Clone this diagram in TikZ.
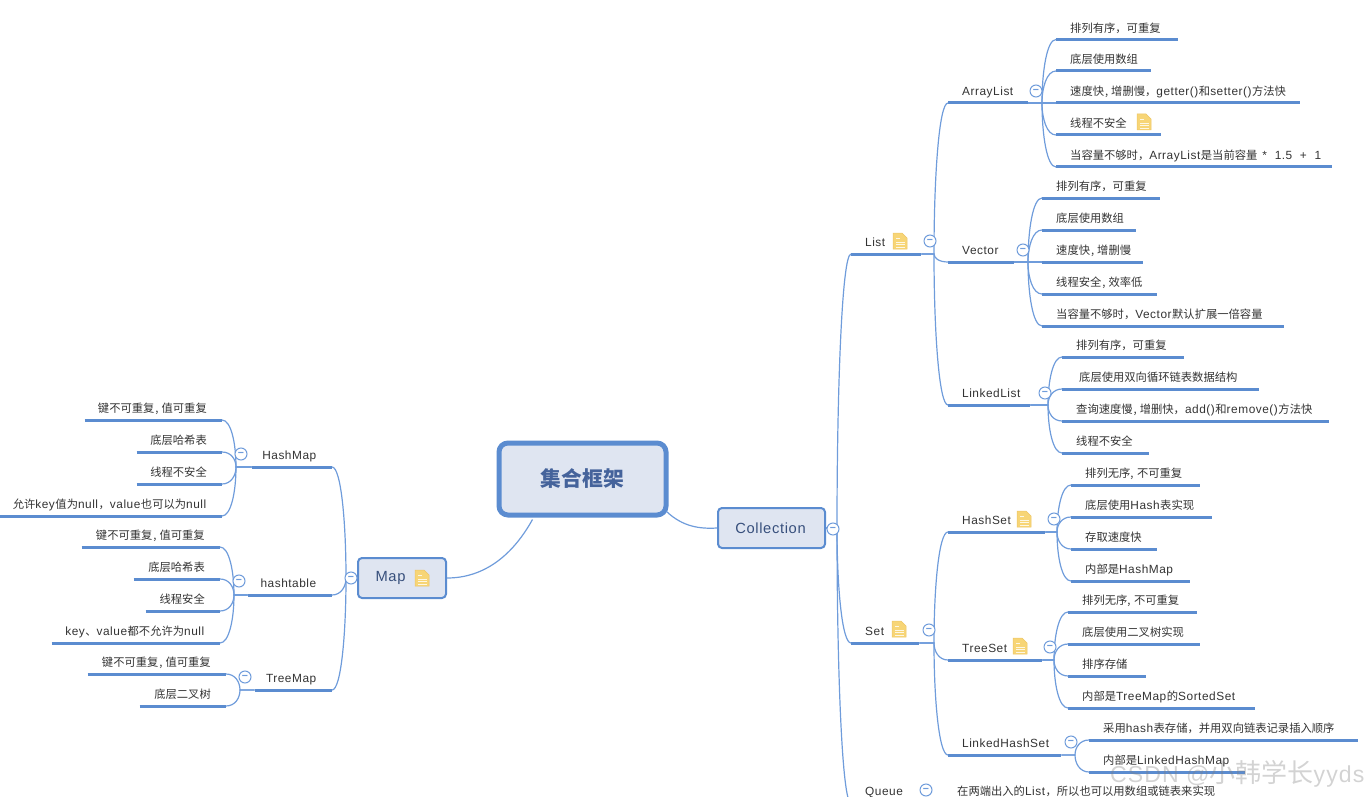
\documentclass[tikz,border=0pt]{standalone}
\usepackage{fontspec}
\setmainfont[Scale=1.05,LetterSpace=4.5]{Liberation Sans}
\newfontfamily\cjk{Noto Sans CJK SC}
\usetikzlibrary{calc}
\definecolor{mapblue}{HTML}{5B8CD0}
\definecolor{linkblue}{HTML}{6F9CDB}
\definecolor{boxfill}{HTML}{DFE5F1}
\definecolor{boxtext}{HTML}{45639B}
\definecolor{notefill}{HTML}{F7D576}
\definecolor{noteline}{HTML}{EDC566}
% leaf: parent, name, left x, right x, bar y, text
\newcommand{\conn}[3]{%
  \coordinate (t) at ($(#1 -| #2)+(#3,0)$);
  \draw[link] (#1) -- (t) .. controls ($(t)!.5!(t |- #2)$) and ($(t |- #2)-(0.35*#3,0)$) .. (#2);}
\newcommand{\rleaf}[6]{%
  \node[leaf, anchor=south west] (#2) at (#3,#5) {\makebox[\dimexpr#4pt-#3pt\relax][l]{\hspace*{14pt}#6}};
  \draw[bar] (#2.south west) -- (#2.south east);
  \conn{#1}{#2.south west}{-14}}
\newcommand{\lleaf}[6]{%
  \node[leaf, anchor=south east] (#2) at (#4,#5) {\makebox[\dimexpr#4pt-#3pt\relax][r]{#6\hspace*{15pt}}};
  \draw[bar] (#2.south west) -- (#2.south east);
  \conn{#1}{#2.south east}{14}}
\newcommand{\noteicon}[2]{%
  \begin{scope}[shift={(#1,#2)}]
    \fill[notefill, draw=noteline, line width=.5pt] (-7,-8) -- (2,-8) -- (7,-3) -- (7,8) -- (-7,8) -- cycle;
    \draw[white!80!notefill, line width=.7pt] (-4,-2.5) -- (0,-2.5) (-4,1) -- (4.5,1) (-4,3.5) -- (4.5,3.5) (-4,6) -- (4.5,6);
  \end{scope}}
\newcommand{\cma}{\hspace{1pt},\hspace{3pt}}
\begin{document}
\begin{tikzpicture}[x=1pt, y=-1pt,
  leaf/.style={inner xsep=0pt, inner ysep=7pt, text depth=0pt, font=\fontsize{11.3}{13}\cjk, text=black!80},
  bar/.style={draw=mapblue, line width=3pt},
  link/.style={draw=linkblue, line width=1.2pt},
  minus/.style={circle, draw=linkblue, fill=white, line width=1pt, minimum size=12pt, inner sep=0pt, font=\fontsize{10}{10}\selectfont\bfseries, text=linkblue},
  topic/.style={draw=mapblue, fill=boxfill, rounded corners=4pt, line width=2pt, minimum height=40pt, text=boxtext!80!black, font=\fontsize{14}{16}\selectfont}]
\useasboundingbox (0,0) rectangle (1371,797);

\node[topic, line width=5pt, rounded corners=9pt, minimum width=167pt, minimum height=72pt, font=\fontsize{20.8}{24}\cjk\bfseries, text=boxtext] (root) at (582.5,479) {集合框架};
\node[topic, minimum width=107pt] (collection) at (771.5,528) {\raisebox{-2pt}{\hspace*{-2pt}Collection}};
\node[topic, minimum width=88pt] (map) at (402,578) {\raisebox{-3pt}{\hspace*{-23pt}Map}};
\draw[link] (root.south east) ++(-2,-6) coordinate (rc) .. controls (683,527) and (700,529) .. (collection.west);
\draw[link] (root.south) ++(-50,2) coordinate (rm) .. controls (510,560) and (480,578) .. (map.east);
\noteicon{422}{578}

% collection side
\rleaf{collection.east}{list}{851}{921}{254}{\textrm{List}}
\rleaf{collection.east}{set}{851}{919}{643}{\textrm{Set}}
\rleaf{collection.east}{queue}{851}{917}{803}{\textrm{Queue}}
\noteicon{900}{241}
\noteicon{899}{629}

\rleaf{list.south east}{arraylist}{948}{1028}{103}{\textrm{ArrayList}}
\rleaf{list.south east}{vector}{948}{1014}{262}{\textrm{Vector}}
\rleaf{list.south east}{linkedlist}{948}{1030}{405}{\textrm{LinkedList}}
\rleaf{set.south east}{hashset}{948}{1045}{532}{\textrm{HashSet}}
\rleaf{set.south east}{treeset}{948}{1042}{660}{\textrm{TreeSet}}
\rleaf{set.south east}{linkedhashset}{948}{1061}{755}{\textrm{LinkedHashSet}}
\rleaf{queue.south east}{queuenote}{943}{1240}{803}{在两端出入的\textrm{List}，所以也可以用数组或链表来实现}
\noteicon{1024}{519}
\noteicon{1020}{646}

\rleaf{arraylist.south east}{al1}{1056}{1178}{39.5}{排列有序，可重复}
\rleaf{arraylist.south east}{al2}{1056}{1151}{71}{底层使用数组}
\rleaf{arraylist.south east}{al3}{1056}{1300}{103}{速度快\cma 增删慢，\textrm{getter()}和\textrm{setter()}方法快}
\rleaf{arraylist.south east}{al4}{1056}{1161}{135}{线程不安全}
\rleaf{arraylist.south east}{al5}{1056}{1332}{167}{当容量不够时，\textrm{ArrayList}是当前容量\ \ \textrm{*\ \ 1.5\ \ +\ \ 1}}
\noteicon{1144}{122}

\rleaf{vector.south east}{ve1}{1042}{1160}{198}{排列有序，可重复}
\rleaf{vector.south east}{ve2}{1042}{1136}{230}{底层使用数组}
\rleaf{vector.south east}{ve3}{1042}{1143}{262}{速度快\cma 增删慢}
\rleaf{vector.south east}{ve4}{1042}{1157}{294}{线程安全\cma 效率低}
\rleaf{vector.south east}{ve5}{1042}{1284}{326}{当容量不够时，\textrm{Vector}默认扩展一倍容量}

\rleaf{linkedlist.south east}{ll1}{1062}{1184}{357}{排列有序，可重复}
\rleaf{linkedlist.south east}{ll2}{1062}{1259}{389}{\hspace*{3pt}底层使用双向循环链表数据结构}
\rleaf{linkedlist.south east}{ll3}{1062}{1329}{421}{查询速度慢\cma 增删快，\textrm{add()}和\textrm{remove()}方法快}
\rleaf{linkedlist.south east}{ll4}{1062}{1149}{453}{线程不安全}

\rleaf{hashset.south east}{hs1}{1071}{1200}{485}{排列无序, \hspace{1pt}不可重复}
\rleaf{hashset.south east}{hs2}{1071}{1212}{517}{底层使用\textrm{Hash}表实现}
\rleaf{hashset.south east}{hs3}{1071}{1157}{549}{存取速度快}
\rleaf{hashset.south east}{hs4}{1071}{1190}{581}{内部是\textrm{HashMap}}

\rleaf{treeset.south east}{ts1}{1068}{1197}{612}{排列无序, \hspace{1pt}不可重复}
\rleaf{treeset.south east}{ts2}{1068}{1200}{644}{底层使用二叉树实现}
\rleaf{treeset.south east}{ts3}{1068}{1146}{676}{排序存储}
\rleaf{treeset.south east}{ts4}{1068}{1255}{708}{内部是\textrm{TreeMap}的\textrm{SortedSet}}

\rleaf{linkedhashset.south east}{lh1}{1089}{1358}{740}{采用\textrm{hash}表存储，并用双向链表记录插入顺序}
\rleaf{linkedhashset.south east}{lh2}{1089}{1245}{772}{内部是\textrm{LinkedHashMap}}

% map side
\lleaf{map.west}{hashmap}{252}{332}{467}{\textrm{HashMap}}
\lleaf{map.west}{hashtable}{248}{332}{595}{\textrm{hashtable}}
\lleaf{map.west}{treemap}{255}{332}{690}{\textrm{TreeMap}}

\lleaf{hashmap.south west}{hm1}{85}{222}{420}{键不可重复\cma 值可重复}
\lleaf{hashmap.south west}{hm2}{137}{222}{452}{底层哈希表}
\lleaf{hashmap.south west}{hm3}{137}{222}{484}{线程不安全}
\lleaf{hashmap.south west}{hm4}{-2}{222}{516}{允许\textrm{key}值为\textrm{null}，\textrm{value}也可以为\textrm{null}}

\lleaf{hashtable.south west}{ht1}{82}{220}{547}{键不可重复\cma 值可重复}
\lleaf{hashtable.south west}{ht2}{134}{220}{579}{底层哈希表}
\lleaf{hashtable.south west}{ht3}{146}{220}{611}{线程安全}
\lleaf{hashtable.south west}{ht4}{52}{220}{643}{\textrm{key}、\textrm{value}都不允许为\textrm{null}}

\lleaf{treemap.south west}{tm1}{88}{226}{674}{键不可重复\cma 值可重复}
\lleaf{treemap.south west}{tm2}{140}{226}{706}{底层二叉树}

% collapse marks
\foreach \mx/\my/\mname in {833/529/mcollection, 930/241/mlist, 929/630/mset, 926/790/mqueue,
  1036/91/marraylist, 1023/250/mvector, 1045/393/mlinkedlist, 1054/519/mhashset, 1050/647/mtreeset, 1071/742/mlinkedhashset,
  351/578/mmap, 241/454/mhashmap, 239/581/mhashtable, 245/677/mtreemap}
  \node[minus] (\mname) at (\mx,\my) {−};

% watermark
\node[anchor=west, inner sep=0pt, opacity=.35, text=gray, font=\fontsize{22}{30}\selectfont] (mark) at (1110,774) {CSDN @{\fontsize{26}{30}\cjk 小韩学长}yyds};
\end{tikzpicture}
\end{document}
